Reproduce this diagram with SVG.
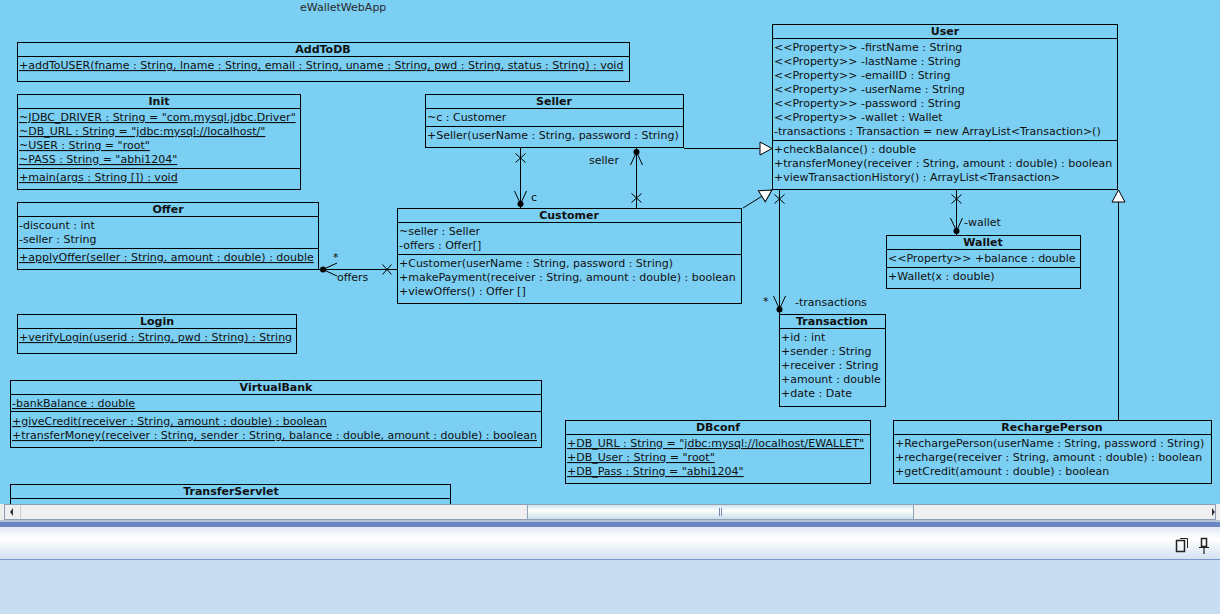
<svg xmlns="http://www.w3.org/2000/svg" width="1220" height="614" viewBox="0 0 1220 614">
<style>
text{font-family:"DejaVu Sans","Liberation Sans",sans-serif;font-size:11px;fill:#111;}
.t{font-weight:bold;text-anchor:middle;}
.u{text-decoration:underline;}
.box{fill:none;stroke:#000;stroke-width:1;}
.ln{stroke:#000;stroke-width:1;fill:none;}
.lbl{fill:#111;}
</style>
<defs>
<marker id="gen" viewBox="-1 -1 15 15" refX="12" refY="6.5" markerWidth="15" markerHeight="15" markerUnits="userSpaceOnUse" orient="auto">
<path d="M0,0 L12,6.5 L0,13 Z" fill="#fff" stroke="#000" stroke-width="1"/>
</marker>
<linearGradient id="thumb" x1="0" y1="0" x2="0" y2="1">
<stop offset="0" stop-color="#c9dfea"/><stop offset="0.4" stop-color="#ffffff"/><stop offset="1" stop-color="#c5dce8"/>
</linearGradient>
<linearGradient id="panel" x1="0" y1="0" x2="0" y2="1">
<stop offset="0" stop-color="#eef3fb"/><stop offset="0.3" stop-color="#ffffff"/><stop offset="1" stop-color="#d3e1f1"/>
</linearGradient>
</defs>
<rect x="0" y="0" width="1220" height="504" fill="#7bcff3"/>
<text x="300" y="11" fill="#333" style="fill:#2a2a2a">eWalletWebApp</text>

<g id="AddToDB">
<rect class="box" x="17.5" y="42.5" width="612" height="39"/>
<line class="ln" x1="17" y1="56.5" x2="630" y2="56.5"/>
<text class="t" x="323" y="53">AddToDB</text>
<text class="u" x="19" y="69">+addToUSER(fname : String, lname : String, email : String, uname : String, pwd : String, status : String) : void</text>
</g>

<g id="Init">
<rect class="box" x="17.5" y="94.5" width="283" height="95"/>
<line class="ln" x1="17" y1="108.5" x2="301" y2="108.5"/>
<line class="ln" x1="17" y1="168.5" x2="301" y2="168.5"/>
<text class="t" x="159" y="105">Init</text>
<text class="u" x="19" y="121">~JDBC_DRIVER : String = "com.mysql.jdbc.Driver"</text>
<text class="u" x="19" y="135">~DB_URL : String = "jdbc:mysql://localhost/"</text>
<text class="u" x="19" y="149">~USER : String = "root"</text>
<text class="u" x="19" y="163">~PASS : String = "abhi1204"</text>
<text class="u" x="19" y="181">+main(args : String []) : void</text>
</g>

<g id="Offer">
<rect class="box" x="17.5" y="202.5" width="301" height="67"/>
<line class="ln" x1="17" y1="216.5" x2="319" y2="216.5"/>
<line class="ln" x1="17" y1="248.5" x2="319" y2="248.5"/>
<text class="t" x="168" y="213">Offer</text>
<text x="19" y="229">-discount : int</text>
<text x="19" y="243">-seller : String</text>
<text class="u" x="19" y="261">+applyOffer(seller : String, amount : double) : double</text>
</g>

<g id="Login">
<rect class="box" x="17.5" y="314.5" width="279" height="39"/>
<line class="ln" x1="17" y1="328.5" x2="297" y2="328.5"/>
<text class="t" x="157" y="325">Login</text>
<text class="u" x="19" y="341">+verifyLogin(userid : String, pwd : String) : String</text>
</g>

<g id="VirtualBank">
<rect class="box" x="10.5" y="380.5" width="531" height="67"/>
<line class="ln" x1="10" y1="394.5" x2="542" y2="394.5"/>
<line class="ln" x1="10" y1="411.5" x2="542" y2="411.5"/>
<text class="t" x="276" y="391">VirtualBank</text>
<text class="u" x="12" y="407">-bankBalance : double</text>
<text class="u" x="12" y="425">+giveCredit(receiver : String, amount : double) : boolean</text>
<text class="u" x="12" y="439">+transferMoney(receiver : String, sender : String, balance : double, amount : double) : boolean</text>
</g>

<g id="TransferServlet">
<rect class="box" x="10.5" y="484.5" width="440" height="30"/>
<line class="ln" x1="10" y1="498.5" x2="451" y2="498.5"/>
<text class="t" x="231" y="495">TransferServlet</text>
</g>

<g id="Seller">
<rect class="box" x="425.5" y="94.5" width="258" height="53"/>
<line class="ln" x1="425" y1="108.5" x2="684" y2="108.5"/>
<line class="ln" x1="425" y1="126.5" x2="684" y2="126.5"/>
<text class="t" x="554" y="105">Seller</text>
<text x="427" y="121">~c : Customer</text>
<text x="427" y="139">+Seller(userName : String, password : String)</text>
</g>

<g id="Customer">
<rect class="box" x="397.5" y="208.5" width="344" height="95"/>
<line class="ln" x1="397" y1="222.5" x2="742" y2="222.5"/>
<line class="ln" x1="397" y1="254.5" x2="742" y2="254.5"/>
<text class="t" x="569" y="219">Customer</text>
<text x="399" y="235">~seller : Seller</text>
<text x="399" y="249">-offers : Offer[]</text>
<text x="399" y="267">+Customer(userName : String, password : String)</text>
<text x="399" y="281">+makePayment(receiver : String, amount : double) : boolean</text>
<text x="399" y="295">+viewOffers() : Offer []</text>
</g>

<g id="User">
<rect class="box" x="772.5" y="24.5" width="345" height="165"/>
<line class="ln" x1="772" y1="38.5" x2="1118" y2="38.5"/>
<line class="ln" x1="772" y1="140.5" x2="1118" y2="140.5"/>
<text class="t" x="945" y="35">User</text>
<text x="774" y="51">&lt;&lt;Property&gt;&gt; -firstName : String</text>
<text x="774" y="65">&lt;&lt;Property&gt;&gt; -lastName : String</text>
<text x="774" y="79">&lt;&lt;Property&gt;&gt; -emailID : String</text>
<text x="774" y="93">&lt;&lt;Property&gt;&gt; -userName : String</text>
<text x="774" y="107">&lt;&lt;Property&gt;&gt; -password : String</text>
<text x="774" y="121">&lt;&lt;Property&gt;&gt; -wallet : Wallet</text>
<text x="774" y="135">-transactions : Transaction = new ArrayList&lt;Transaction&gt;()</text>
<text x="774" y="153">+checkBalance() : double</text>
<text x="774" y="167">+transferMoney(receiver : String, amount : double) : boolean</text>
<text x="774" y="181">+viewTransactionHistory() : ArrayList&lt;Transaction&gt;</text>
</g>

<g id="Wallet">
<rect class="box" x="886.5" y="235.5" width="194" height="53"/>
<line class="ln" x1="886" y1="249.5" x2="1081" y2="249.5"/>
<line class="ln" x1="886" y1="267.5" x2="1081" y2="267.5"/>
<text class="t" x="983" y="246">Wallet</text>
<text x="888" y="262">&lt;&lt;Property&gt;&gt; +balance : double</text>
<text x="888" y="280">+Wallet(x : double)</text>
</g>

<g id="Transaction">
<rect class="box" x="779.5" y="314.5" width="106" height="92"/>
<line class="ln" x1="779" y1="328.5" x2="886" y2="328.5"/>
<text class="t" x="832" y="325">Transaction</text>
<text x="781" y="341">+id : int</text>
<text x="781" y="355">+sender : String</text>
<text x="781" y="369">+receiver : String</text>
<text x="781" y="383">+amount : double</text>
<text x="781" y="397">+date : Date</text>
</g>

<g id="DBconf">
<rect class="box" x="565.5" y="420.5" width="305" height="63"/>
<line class="ln" x1="565" y1="434.5" x2="871" y2="434.5"/>
<text class="t" x="718" y="431">DBconf</text>
<text class="u" x="567" y="447">+DB_URL : String = "jdbc:mysql://localhost/EWALLET"</text>
<text class="u" x="567" y="461">+DB_User : String = "root"</text>
<text class="u" x="567" y="475">+DB_Pass : String = "abhi1204"</text>
</g>

<g id="RechargePerson">
<rect class="box" x="893.5" y="420.5" width="318" height="63"/>
<line class="ln" x1="893" y1="434.5" x2="1212" y2="434.5"/>
<text class="t" x="1052" y="431">RechargePerson</text>
<text x="895" y="447">+RechargePerson(userName : String, password : String)</text>
<text x="895" y="461">+recharge(receiver : String, amount : double) : boolean</text>
<text x="895" y="475">+getCredit(amount : double) : boolean</text>
</g>

<g id="connectors">
<path class="ln" d="M684,148.5 H772" marker-end="url(#gen)"/>
<path class="ln" d="M743,208 L772,190" marker-end="url(#gen)"/>
<path class="ln" d="M1118.5,420 V190" marker-end="url(#gen)"/>

<path class="ln" d="M520.5,148 V208"/>
<path class="ln" d="M515.5,153.5 L525.5,162.5 M525.5,153.5 L515.5,162.5"/>
<path class="ln" d="M514.5,191 L520.5,204 L526.5,191"/>
<circle cx="520.5" cy="204" r="3" fill="#000"/>
<text class="lbl" x="531" y="201">c</text>

<path class="ln" d="M636.5,148 V208"/>
<circle cx="636.5" cy="152" r="3" fill="#000"/>
<path class="ln" d="M630.5,165 L636.5,152 L642.5,165"/>
<path class="ln" d="M631.5,193.5 L641.5,202.5 M641.5,193.5 L631.5,202.5"/>
<text class="lbl" x="589" y="164">seller</text>

<path class="ln" d="M319,269.5 H397"/>
<circle cx="323" cy="269.5" r="3" fill="#000"/>
<path class="ln" d="M337,263 L323,269.5 L337,276"/>
<path class="ln" d="M382.5,264.5 L391.5,274.5 M391.5,264.5 L382.5,274.5"/>
<text class="lbl" x="333" y="261">*</text>
<text class="lbl" x="337" y="281">offers</text>

<path class="ln" d="M779.5,190 V314"/>
<path class="ln" d="M774.5,194.5 L784.5,203.5 M784.5,194.5 L774.5,203.5"/>
<path class="ln" d="M773.5,296 L779.5,309 L785.5,296"/>
<circle cx="779.5" cy="309.5" r="3" fill="#000"/>
<text class="lbl" x="763" y="305">*</text>
<text class="lbl" x="795" y="306">-transactions</text>

<path class="ln" d="M956.5,190 V235"/>
<path class="ln" d="M951.5,194.5 L961.5,203.5 M961.5,194.5 L951.5,203.5"/>
<path class="ln" d="M950.5,218 L956.5,231 L962.5,218"/>
<circle cx="956.5" cy="231" r="3" fill="#000"/>
<text class="lbl" x="964" y="226">-wallet</text>
</g>

<g id="ui">
<rect x="0" y="504" width="1220" height="16" fill="#eeeeee"/>
<rect x="4.5" y="504.5" width="1211" height="15" fill="#f0eff0" stroke="#8e9db2"/>
<line x1="20.5" y1="505" x2="20.5" y2="519" stroke="#c8ccd4"/>
<path d="M13,508 L10,512 L13,516 Z" fill="#333"/>
<path d="M1212,508 L1215,512 L1212,516 Z" fill="#333"/>
<rect x="527.5" y="504.5" width="386" height="15" fill="url(#thumb)" stroke="#8ea3b8"/>
<line x1="719.5" y1="508" x2="719.5" y2="516" stroke="#6f8aa8"/>
<line x1="721.5" y1="508" x2="721.5" y2="516" stroke="#6f8aa8"/>
<rect x="0" y="520" width="1220" height="2" fill="#b6c2d6"/>
<rect x="0" y="522" width="1220" height="5" fill="#6a86c3"/>
<rect x="0" y="527" width="1220" height="4" fill="#e6ecf5"/>
<rect x="0" y="531" width="1220" height="28" fill="url(#panel)"/>
<rect x="0" y="559" width="1220" height="1" fill="#7b97c9"/>
<rect x="0" y="560" width="1220" height="54" fill="#c8ddf1"/>
<rect x="1176.5" y="540.5" width="8" height="11" fill="none" stroke="#222" stroke-width="1.5"/>
<path d="M1180,538.5 H1187.5 V548" fill="none" stroke="#222" stroke-width="1"/>
<rect x="1201.5" y="538.5" width="5" height="8" fill="none" stroke="#222" stroke-width="1.5"/>
<path d="M1199,547.5 H1209 M1204,547 V554" stroke="#222" stroke-width="1.2"/>
</g>
</svg>
